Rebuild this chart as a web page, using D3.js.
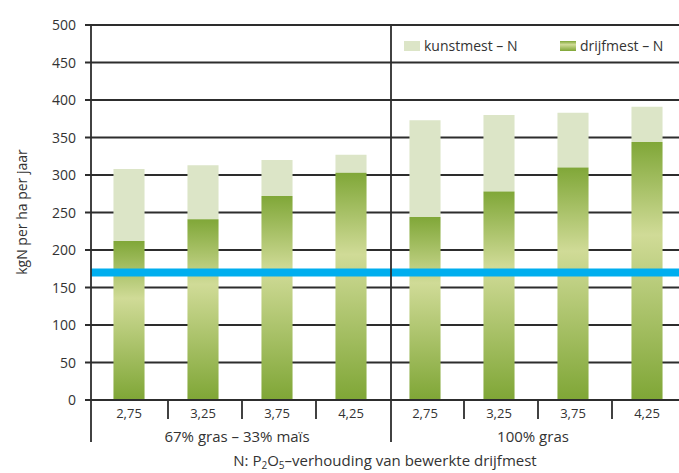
<!DOCTYPE html>
<html>
<head>
<meta charset="utf-8">
<script src="https://cdn.jsdelivr.net/npm/d3@7"></script>
<style>
  body { margin: 0; background: #fff; }
  text { font-family: "Open Sans", "Noto Sans", sans-serif; fill: #333; }
</style>
</head>
<body>
<svg id="chart"></svg>
<script>
// DATA
const ratios = ['2,75', '3,25', '3,75', '4,25', '2,75', '3,25', '3,75', '4,25'];
const groups = ['67% gras – 33% maïs', '100% gras'];
const drijfmest = [212, 241, 272, 303, 244, 278, 310, 344];
const kunstmest = [96, 72, 48, 24, 129, 102, 73, 47];
const yTicks = [0, 50, 100, 150, 200, 250, 300, 350, 400, 450, 500];
const normLine = 170;

const width = 679;
const height = 473;
const axisX = 91;
const plotLeft = 92, plotRight = 684, plotTop = 25, plotBottom = 400;

const svg = d3.select('#chart')
    .attr('width', width)
    .attr('height', height);

const defs = svg.append('defs');
function addGrad(id) {
    let g = defs.append('linearGradient')
        .attr('id', id)
        .attr('x1', 0).attr('y1', 0).attr('x2', 0).attr('y2', 1);
    g.append('stop').attr('offset', '0%').attr('stop-color', '#80a738');
    g.append('stop').attr('offset', '36%').attr('stop-color', '#d0db97');
    g.append('stop').attr('offset', '100%').attr('stop-color', '#7fa636');
}
addGrad('drijfGrad');

const x = d3.scaleBand()
    .domain(d3.range(ratios.length))
    .range([plotLeft, plotRight])
    .paddingInner(0.58)
    .paddingOuter(0.29);
const step = x.step();

const y = d3.scaleLinear().domain([0, 500]).range([plotBottom, plotTop]);

// gridlines + y ticks
svg.append('g').selectAll('line')
    .data(yTicks)
    .join('line')
    .attr('x1', axisX - 6)
    .attr('x2', width)
    .attr('y1', d => y(d))
    .attr('y2', d => y(d))
    .attr('stroke', '#2d2d2d')
    .attr('stroke-width', 1.8);

svg.append('g').selectAll('text')
    .data(yTicks)
    .join('text')
    .attr('x', 76)
    .attr('y', d => y(d) + 5)
    .attr('text-anchor', 'end')
    .attr('font-size', 14)
    .text(d => d);

// stacked bars
const bars = svg.append('g');
bars.selectAll('rect.k')
    .data(kunstmest)
    .join('rect')
    .attr('class', 'k')
    .attr('x', (d, i) => x(i))
    .attr('width', x.bandwidth())
    .attr('y', (d, i) => y(drijfmest[i] + d))
    .attr('height', (d, i) => y(drijfmest[i]) - y(drijfmest[i] + d))
    .attr('fill', '#dce5c7');

bars.selectAll('rect.d')
    .data(drijfmest)
    .join('rect')
    .attr('class', 'd')
    .attr('x', (d, i) => x(i))
    .attr('width', x.bandwidth())
    .attr('y', d => y(d))
    .attr('height', d => y(0) - y(d))
    .attr('fill', 'url(#drijfGrad)');

// baseline
svg.append('line')
    .attr('x1', axisX - 6).attr('x2', width)
    .attr('y1', y(0)).attr('y2', y(0))
    .attr('stroke', '#2d2d2d').attr('stroke-width', 1.8);

// blue norm line
svg.append('line')
    .attr('x1', axisX).attr('x2', width)
    .attr('y1', y(normLine)).attr('y2', y(normLine))
    .attr('stroke', '#00aeef').attr('stroke-width', 8);

// y axis + divider
svg.append('line')
    .attr('x1', axisX).attr('x2', axisX)
    .attr('y1', plotTop - 1).attr('y2', 442)
    .attr('stroke', '#2d2d2d').attr('stroke-width', 1.8);
svg.append('line')
    .attr('x1', plotLeft + step * 4 + 3).attr('x2', plotLeft + step * 4 + 3)
    .attr('y1', plotTop - 1).attr('y2', 442)
    .attr('stroke', '#2d2d2d').attr('stroke-width', 1.8);

// category ticks
svg.append('g').selectAll('line')
    .data([1, 2, 3, 5, 6, 7])
    .join('line')
    .attr('x1', d => plotLeft + step * d + 2)
    .attr('x2', d => plotLeft + step * d + 2)
    .attr('y1', y(0))
    .attr('y2', 419)
    .attr('stroke', '#2d2d2d').attr('stroke-width', 1.8);

svg.append('g').selectAll('text')
    .data(ratios)
    .join('text')
    .attr('x', (d, i) => x(i) + x.bandwidth() / 2)
    .attr('y', 418)
    .attr('text-anchor', 'middle')
    .attr('font-size', 13)
    .text(d => d);

svg.append('g').selectAll('text')
    .data(groups)
    .join('text')
    .attr('x', (d, i) => plotLeft + step * (2 + i * 4) - 3)
    .attr('y', 442)
    .attr('text-anchor', 'middle')
    .attr('font-size', 15)
    .text(d => d);

// axis titles
const xt = svg.append('text')
    .attr('x', 385)
    .attr('y', 466)
    .attr('text-anchor', 'middle')
    .attr('font-size', 15);
xt.append('tspan').text('N: P');
xt.append('tspan').attr('font-size', 10).attr('dy', 2.5).text('2');
xt.append('tspan').attr('dy', -2.5).text('O');
xt.append('tspan').attr('font-size', 10).attr('dy', 2.5).text('5');
xt.append('tspan').attr('dy', -2.5).text('–verhouding van bewerkte drijfmest');

svg.append('text')
    .attr('transform', 'translate(27,212) rotate(-90)')
    .attr('text-anchor', 'middle')
    .attr('font-size', 14)
    .text('kgN per ha per jaar');

// legend
const legend = [
    {label: 'kunstmest – N', fill: '#dce5c7', x: 404},
    {label: 'drijfmest – N', fill: 'url(#drijfGrad)', x: 560}
];
const lg = svg.append('g').selectAll('g')
    .data(legend)
    .join('g');
lg.append('rect')
    .attr('x', d => d.x).attr('y', 41)
    .attr('width', 16).attr('height', 10)
    .attr('fill', d => d.fill);
lg.append('text')
    .attr('x', d => d.x + 20).attr('y', 51)
    .attr('font-size', 14)
    .text(d => d.label);
</script>
</body>
</html>
